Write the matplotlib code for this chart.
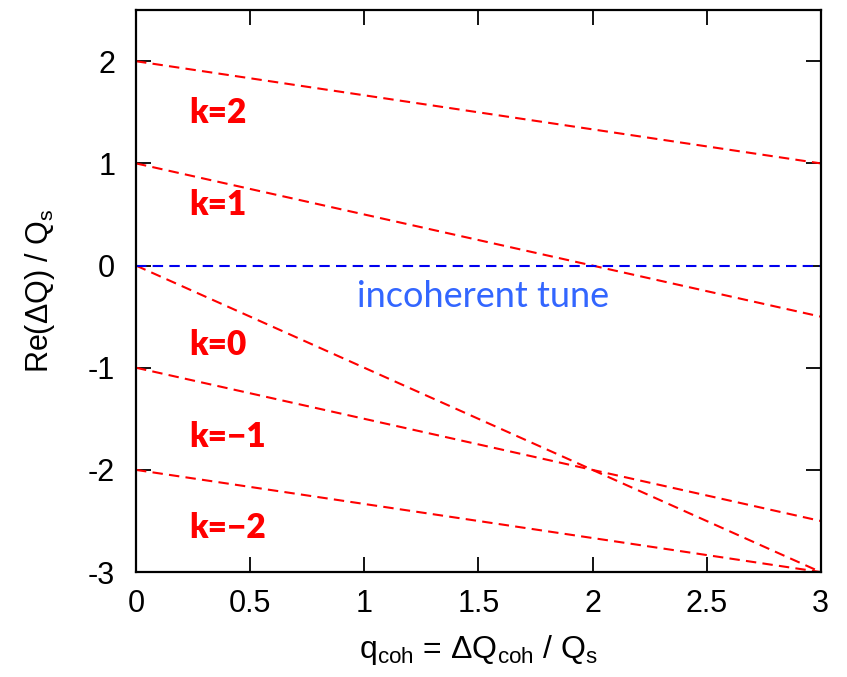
import matplotlib
matplotlib.use("Agg")
import matplotlib.pyplot as plt

plt.rcParams["font.family"] = ["Liberation Sans", "DejaVu Sans"]

# endpoints of each mode line at q = 0 and q = 3
q_ends = [0, 3]
modes = ["k=2", "k=1", "k=0", "k=\u22121", "k=\u22122"]
start_vals = [2, 1, 0, -1, -2]
end_vals = [1, -0.5, -3, -2.5, -3]
label_y = [1.49, 0.59, -0.78, -1.68, -2.57]

incoherent = [0, 0]

fig = plt.figure(figsize=(8.47, 6.77), dpi=100)
ax = fig.add_axes([0.1606, 0.155, 0.8084, 0.830])

for a, b in zip(start_vals, end_vals):
    ax.plot(q_ends, [a, b], color="#ff0000", linestyle=(0, (5, 3)), linewidth=1.5)

ax.plot(q_ends, incoherent, color="#0000ee", linestyle=(0, (5, 3)), linewidth=1.5)

for name, y in zip(modes, label_y):
    ax.text(0.235, y, name, color="#ff0000", fontsize=24, fontweight="heavy",
            family=["Lato", "DejaVu Sans"], va="center", ha="left")

ax.text(1.52, -0.3, "incoherent tune", color="#3366ff", fontsize=26,
        family=["Lato", "DejaVu Sans"], va="center", ha="center")

ax.set_xlim(0, 3)
ax.set_ylim(-3, 2.5)
ax.set_xticks([0, 0.5, 1, 1.5, 2, 2.5, 3])
ax.set_xticklabels(["0", "0.5", "1", "1.5", "2", "2.5", "3"])
ax.set_yticks([-3, -2, -1, 0, 1, 2])
ax.set_yticklabels(["-3", "-2", "-1", "0", "1", "2"])
ax.tick_params(direction="in", length=11, width=1.3, labelsize=22,
               top=True, right=True)
ax.tick_params(axis="x", pad=12)
ax.tick_params(axis="y", pad=15)
for s in ax.spines.values():
    s.set_linewidth(1.6)

ax.set_xlabel(r"$\mathregular{q_{coh}}$ = $\mathregular{\Delta Q_{coh}}$ / $\mathregular{Q_s}$",
              fontsize=23, labelpad=10)
ax.set_ylabel(r"Re($\mathregular{\Delta}$Q) / $\mathregular{Q_s}$", fontsize=22, labelpad=22)

fig.savefig("out.png", dpi=100)
